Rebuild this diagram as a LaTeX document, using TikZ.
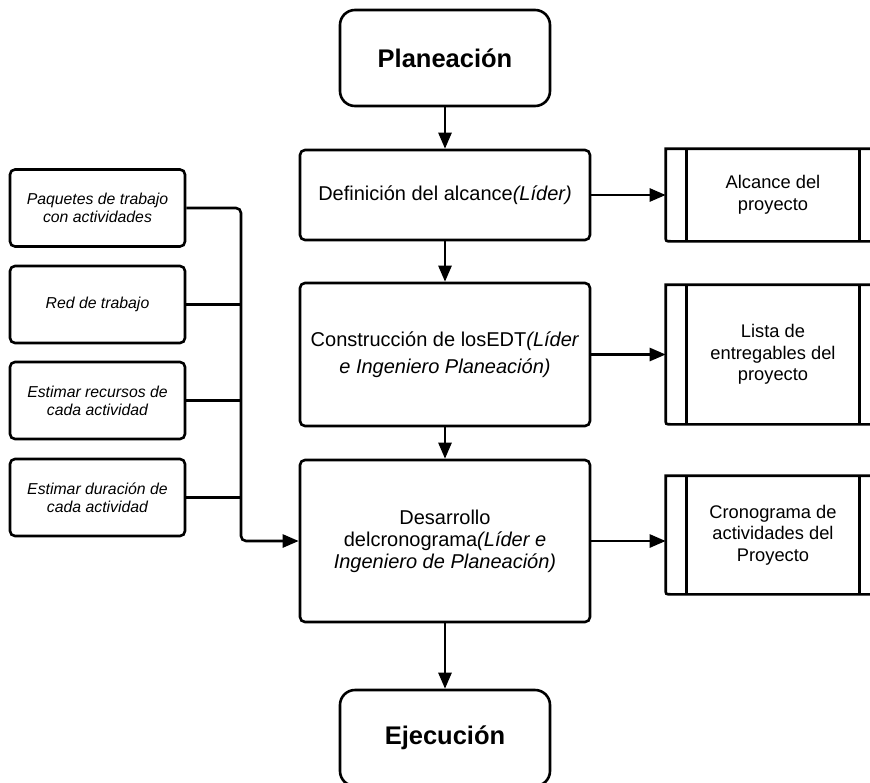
\documentclass[tikz,border=0pt]{standalone}
\usepackage{fontspec}
\setmainfont{Liberation Sans}
\usetikzlibrary{arrows.meta}
\begin{document}
\begin{tikzpicture}[x=1pt,y=-1pt,
  line width=2.6pt,
  every node/.style={inner sep=0pt,align=center},
  terminal/.style={draw,rounded corners=15pt,minimum width=210pt,minimum height=96pt,
    font=\fontsize{25.5}{30}\selectfont\bfseries},
  process/.style={draw,rounded corners=5pt,minimum width=290pt,
    font=\fontsize{20}{22}\selectfont},
  input/.style={draw,rounded corners=5pt,minimum width=175pt,minimum height=77pt,
    font=\fontsize{15.8}{18}\selectfont\itshape},
  output/.style={minimum width=212pt,font=\fontsize{18.3}{21.5}\selectfont},
  arr/.style={line width=2.6pt,-{Triangle[length=16pt,width=13pt]}},
  link/.style={line width=2.6pt}
]
\useasboundingbox (0,0) rectangle (870,782);

% main flow
\node[terminal] (plan) at (445,58) {Planeación};
\node[process,minimum height=90pt] (def) at (445,195)
  {Definición del alcance\textit{(Líder)}};
\node[process,minimum height=143pt] (con) at (445,354.5)
  {Construcción de losEDT\textit{(Líder}\\[5pt]\textit{e Ingeniero Planeación)}};
\node[process,minimum height=162pt] (des) at (445,541)
  {Desarrollo\\delcronograma\textit{(Líder e}\\\textit{Ingeniero de Planeación)}};
\node[terminal] (eje) at (445,738) {Ejecución};

% inputs on the left
\node[input] (p1) at (97.5,208) {Paquetes de trabajo\\con actividades};
\node[input] (p2) at (97.5,304.5) {Red de trabajo};
\node[input] (p3) at (97.5,400.5) {Estimar recursos de\\cada actividad};
\node[input] (p4) at (97.5,497.5) {Estimar duración de\\cada actividad};

% outputs on the right (predefined-process shape)
\node[output,minimum height=90pt] (alc) at (773,195) {Alcance del\\proyecto};
\node[output,minimum height=137pt] (lis) at (773,354.5) {Lista de\\entregables del\\proyecto};
\node[output,minimum height=116pt] (cro) at (773,535) {Cronograma de\\actividades del\\Proyecto};

\foreach \b in {alc,lis,cro}{
  \draw (\b.north east) -- (\b.north west) -- ([yshift=5pt]\b.south west)
    .. controls (\b.south west) .. ([xshift=5pt]\b.south west) -- (\b.south east);
  \draw ([xshift=21pt]\b.north west) -- ([xshift=21pt]\b.south west);
  \draw ([xshift=-21pt]\b.north east) -- ([xshift=-21pt]\b.south east);
}

% connectors
\draw[arr] (plan) -- (def);
\draw[arr] (def) -- (con);
\draw[arr] (con) -- (des);
\draw[arr] (des) -- (eje);

\draw[arr] (def.east) -- (def.east -| alc.west);
\draw[arr] (con.east) -- (con.east -| lis.west);
\draw[arr] (des.east) -- (des.east -| cro.west);

\coordinate (bus) at (241,541);
\draw[arr,rounded corners=5pt] (p1.east) -| (bus) -- (des.west);
\draw[link] (p2.east) -- (p2.east -| bus);
\draw[link] (p3.east) -- (p3.east -| bus);
\draw[link] (p4.east) -- (p4.east -| bus);
\end{tikzpicture}
\end{document}
